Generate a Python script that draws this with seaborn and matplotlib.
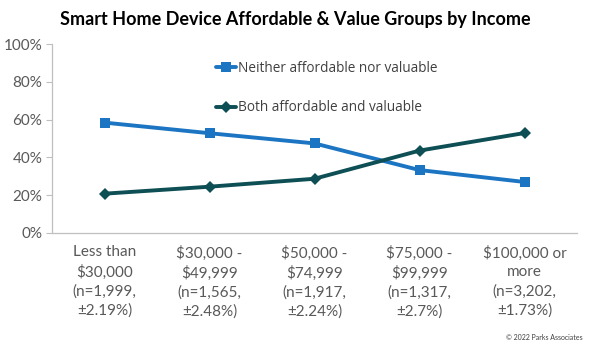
import matplotlib
matplotlib.use("Agg")
import matplotlib.pyplot as plt
import seaborn as sns
import pandas as pd
from matplotlib.ticker import PercentFormatter

categories = [
    "Less than\n$30,000\n(n=1,999,\n±2.19%)",
    "$30,000 -\n$49,999\n(n=1,565,\n±2.48%)",
    "$50,000 -\n$74,999\n(n=1,917,\n±2.24%)",
    "$75,000 -\n$99,999\n(n=1,317,\n±2.7%)",
    "$100,000 or\nmore\n(n=3,202,\n±1.73%)",
]
neither = [58.4, 52.8, 47.4, 33.3, 27.0]
both = [20.8, 24.5, 28.7, 43.6, 52.9]
series_names = ["Neither affordable nor valuable", "Both affordable and valuable"]
y_ticks = [0, 20, 40, 60, 80, 100]

df = pd.DataFrame({
    "pos": list(range(len(categories))) * 2,
    "value": neither + both,
    "series": [series_names[0]] * len(categories) + [series_names[1]] * len(categories),
})

sns.set_theme(style="white")
plt.rcParams["font.family"] = ["Lato", "DejaVu Sans"]

fig = plt.figure(figsize=(5.91, 3.46), dpi=100)
ax = fig.add_axes([52 / 591, (346 - 233) / 346, (577 - 52) / 591, (233 - 44) / 346])

palette = {series_names[0]: "#1c75c2", series_names[1]: "#0e4f55"}
markers = {series_names[0]: "s", series_names[1]: "D"}
sns.lineplot(data=df, x="pos", y="value", hue="series", style="series",
             palette=palette, markers=markers, dashes=False, markersize=6.5,
             linewidth=2.8, markeredgewidth=0, ax=ax)

ax.set_xlim(-0.5, len(categories) - 0.5)
ax.set_ylim(0, 100)
ax.set_yticks(y_ticks)
ax.yaxis.set_major_formatter(PercentFormatter(decimals=0))
ax.set_xticks(range(len(categories)))
ax.set_xticklabels(categories, linespacing=1.42)
ax.set_xlabel("")
ax.set_ylabel("")
ax.tick_params(axis="y", labelsize=11, colors="#595959", length=4, width=0.8,
               left=True, pad=3)
ax.tick_params(axis="y", color="#bfbfbf")
ax.tick_params(axis="x", labelsize=11, colors="#595959", length=0, pad=9)
for side in ["top", "right"]:
    ax.spines[side].set_visible(False)
for side in ["left", "bottom"]:
    ax.spines[side].set_color("#bfbfbf")
    ax.spines[side].set_linewidth(0.9)

leg = ax.legend(loc="upper left", bbox_to_anchor=(0.302, 0.94), frameon=False,
                prop={"family": ["Open Sans", "DejaVu Sans"], "size": 9.8},
                handlelength=1.5, handletextpad=0.15,
                labelspacing=1.8, borderaxespad=0)
for t in leg.get_texts():
    t.set_color("#404040")

fig.text(0.5, 0.945, "Smart Home Device Affordable & Value Groups by Income",
         ha="center", va="center", fontsize=13, fontweight="bold", color="#000000")
fig.text(0.985, 0.025, "© 2022 Parks Associates", ha="right", va="center",
         fontsize=5, color="#404040")

fig.savefig("out.png", dpi=100)
